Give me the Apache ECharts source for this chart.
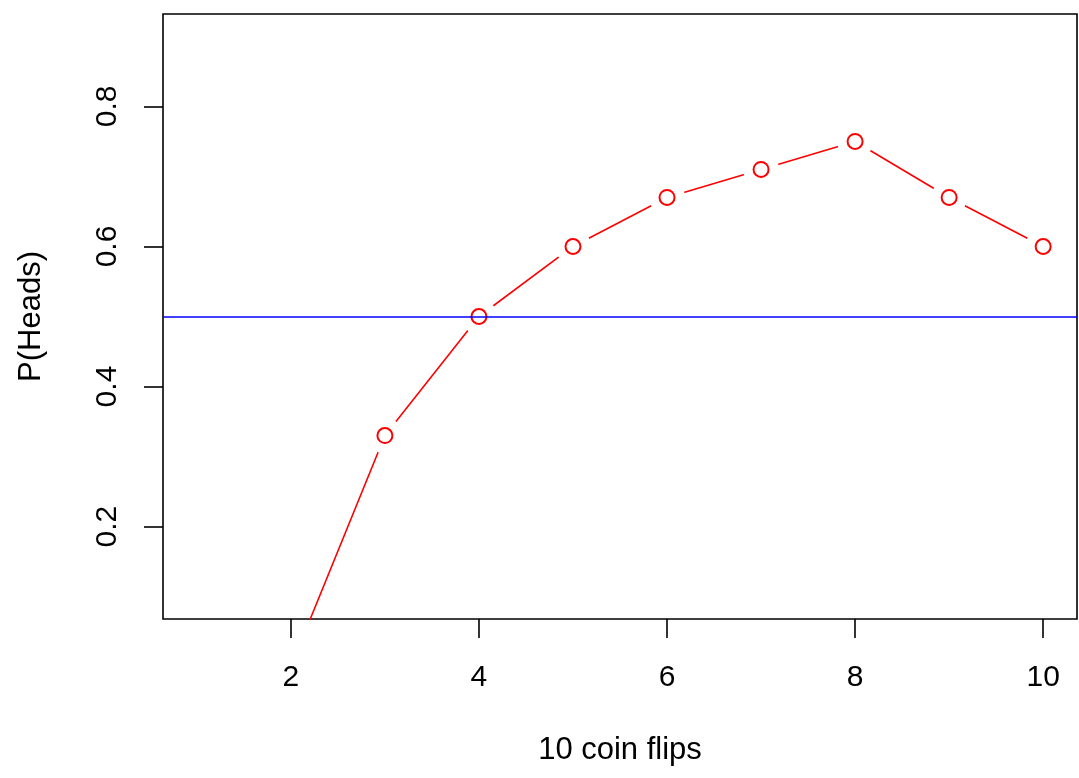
<!DOCTYPE html>
<html>
<head>
<meta charset="utf-8">
<title>10 coin flips</title>
<script src="https://cdn.jsdelivr.net/npm/echarts@6/dist/echarts.min.js"></script>
<style>
  html, body { margin: 0; padding: 0; background: #fff; }
  #chart { width: 1079px; height: 778px; }
</style>
</head>
<body>
<div id="chart"></div>
<script>
// running share of heads after each flip
var flips = [1, 2, 3, 4, 5, 6, 7, 8, 9, 10];
var propHeads = [0, 0, 0.33, 0.5, 0.6, 0.67, 0.71, 0.75, 0.67, 0.6];
var xTicks = [2, 4, 6, 8, 10];
var yTicks = [0.2, 0.4, 0.6, 0.8];
var fairLine = 0.5;

var points = flips.map(function (f, i) { return [f, propHeads[i]]; });
var font = 'Liberation Sans, Arial, Helvetica, sans-serif';

var chart = echarts.init(document.getElementById('chart'));
var option = {
    animation: false,
    backgroundColor: '#fff',
    grid: {
        left: 163, right: 2, top: 14, bottom: 159,
        show: true, borderColor: '#000', borderWidth: 1.6,
        backgroundColor: 'transparent'
    },
    xAxis: {
        type: 'value',
        min: 0.64, max: 10.36,
        name: '10 coin flips',
        nameLocation: 'middle',
        nameGap: 116,
        nameTextStyle: { color: '#000', fontSize: 31, fontFamily: font },
        axisLine: { show: false },
        splitLine: { show: false },
        axisTick: { show: true, length: 19, customValues: xTicks, lineStyle: { color: '#000', width: 1.6 } },
        axisLabel: { customValues: xTicks, margin: 44, color: '#000', fontSize: 30, fontFamily: font }
    },
    yAxis: {
        type: 'value',
        min: 0.068, max: 0.932,
        name: 'P(Heads)',
        nameLocation: 'middle',
        nameGap: 116,
        nameRotate: 90,
        nameTextStyle: { color: '#000', fontSize: 31, fontFamily: font },
        axisLine: { show: false },
        splitLine: { show: false },
        axisTick: { show: true, length: 19, customValues: yTicks, lineStyle: { color: '#000', width: 1.6 } },
        axisLabel: {
            customValues: yTicks, rotate: 90, margin: 40,
            color: '#000', fontSize: 30, fontFamily: font,
            formatter: function (v) { return v.toFixed(1); }
        }
    },
    series: [
        {
            type: 'line',
            data: points,
            showSymbol: false,
            symbol: 'none',
            lineStyle: { color: '#ff0000', width: 1.6 },
            z: 2
        },
        {
            // white gaps around points like R type = "b"
            type: 'scatter',
            data: points,
            symbol: 'circle',
            symbolSize: 36,
            itemStyle: { color: '#fff', opacity: 1 },
            silent: true,
            z: 3
        },
        {
            type: 'scatter',
            data: points,
            symbol: 'emptyCircle',
            symbolSize: 15,
            itemStyle: { color: '#ff0000', borderWidth: 1.6, opacity: 1 },
            z: 4
        },
        {
            type: 'line',
            data: [],
            z: 5,
            markLine: {
                silent: true,
                symbol: ['none', 'none'],
                label: { show: false },
                lineStyle: { color: '#0000ff', width: 1.6, type: 'solid' },
                data: [{ yAxis: fairLine }]
            }
        }
    ]
};
chart.setOption(option);
window.onresize = function () {
    chart.resize();
};
</script>
</body>
</html>
